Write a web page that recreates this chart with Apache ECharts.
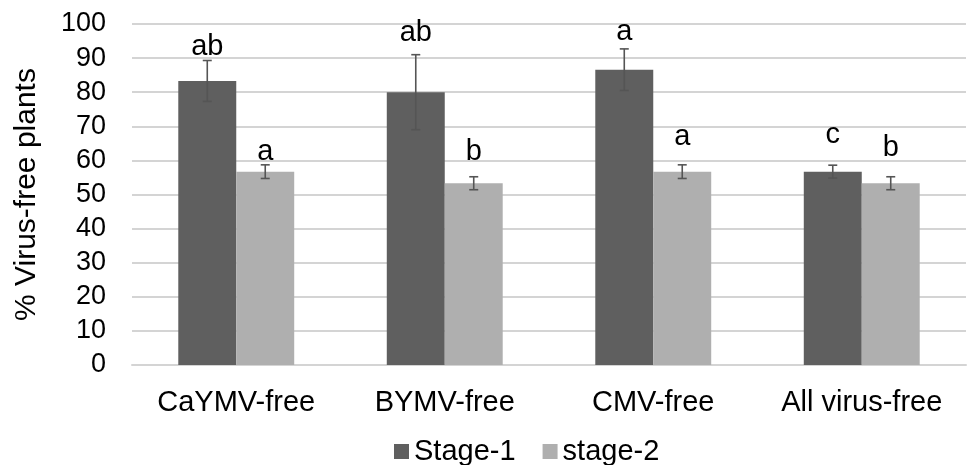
<!DOCTYPE html>
<html>
<head>
<meta charset="utf-8">
<script src="https://cdn.jsdelivr.net/npm/echarts@6/dist/echarts.min.js"></script>
<style>html,body{margin:0;padding:0;background:#fff}#c{width:967px;height:465px}</style>
</head>
<body>
<div id="c"></div>
<script>
var categories = ['CaYMV-free', 'BYMV-free', 'CMV-free', 'All virus-free'];
var seriesNames = ['Stage-1', 'stage-2'];
var stage1 = [83.3, 80.0, 86.6, 56.7];
var stage2 = [56.7, 53.3, 56.7, 53.3];
var stage1Err = [6.0, 11.0, 6.1, 1.9];
var stage2Err = [2.0, 1.9, 2.0, 1.9];
var stage1Letters = ['ab', 'ab', 'a', 'c'];
var stage2Letters = ['a', 'b', 'a', 'b'];
var stage1LetterY = [93.3, 97.4, 97.7, 67.4];
var stage2LetterY = [62.5, 62.5, 67.0, 63.6];
var yTicks = [0, 10, 20, 30, 40, 50, 60, 70, 80, 90, 100];

var FONT = "'Liberation Sans', Arial, sans-serif";
var BAR_RATIO = 0.278;

function errSeries(name, vals, errs, letters, letterY, side) {
  var data = vals.map(function (v, i) { return [i, v, errs[i], letterY[i]]; });
  return {
    type: 'custom',
    name: name + '-err',
    data: data,
    z: 5,
    silent: true,
    renderItem: function (params, api) {
      var i = api.value(0), v = api.value(1), e = api.value(2), ly = api.value(3);
      var band = api.size([1, 0])[0];
      var off = side * band * BAR_RATIO / 2;
      var top = api.coord([i, v + e]);
      var bot = api.coord([i, v - e]);
      var lp = api.coord([i, ly]);
      var x = top[0] + off;
      var cap = 4.5;
      var st = { stroke: '#555555', lineWidth: 1.6 };
      return {
        type: 'group',
        children: [
          { type: 'line', shape: { x1: x, y1: top[1], x2: x, y2: bot[1] }, style: st },
          { type: 'line', shape: { x1: x - cap, y1: top[1], x2: x + cap, y2: top[1] }, style: st },
          { type: 'line', shape: { x1: x - cap, y1: bot[1], x2: x + cap, y2: bot[1] }, style: st },
          { type: 'text', x: x, y: lp[1], style: { text: letters[params.dataIndex], fill: '#000', font: '29px ' + FONT, align: 'center', verticalAlign: 'middle' } }
        ]
      };
    }
  };
}

var chart = echarts.init(document.getElementById('c'), null, { renderer: 'canvas' });
chart.setOption({
  animation: false,
  backgroundColor: '#ffffff',
  textStyle: { fontFamily: FONT },
  grid: { left: 132, right: 1, top: 24, bottom: 100, containLabel: false, outerBoundsMode: 'none' },
  legend: {
    data: seriesNames,
    left: 389,
    top: 432,
    icon: 'rect',
    itemWidth: 15,
    itemHeight: 15,
    itemGap: 27,
    textStyle: { fontSize: 29, color: '#000', fontFamily: FONT }
  },
  xAxis: {
    type: 'category',
    data: categories,
    axisLine: { lineStyle: { color: '#d4d4d4', width: 2 } },
    axisTick: { show: false },
    axisLabel: { color: '#000', fontSize: 29, margin: 23, interval: 0, fontFamily: FONT }
  },
  yAxis: {
    type: 'value',
    min: 0, max: 100, interval: 10,
    name: '% Virus-free plants',
    nameLocation: 'middle',
    nameRotate: 90,
    nameGap: 90,
    nameTextStyle: { color: '#000', fontSize: 30, fontFamily: FONT },
    axisLine: { show: false },
    axisTick: { show: false },
    axisLabel: { color: '#000', fontSize: 27, margin: 26, fontFamily: FONT,
      formatter: function (v) { return yTicks.indexOf(v) >= 0 ? String(v) : ''; } },
    splitLine: { lineStyle: { color: '#d4d4d4', width: 2 } }
  },
  series: [
    { type: 'bar', name: seriesNames[0], data: stage1, barWidth: (BAR_RATIO * 100) + '%', barGap: '0%', itemStyle: { color: '#5f5f5f' } },
    { type: 'bar', name: seriesNames[1], data: stage2, barWidth: (BAR_RATIO * 100) + '%', barGap: '0%', itemStyle: { color: '#afafaf' } },
    errSeries(seriesNames[0], stage1, stage1Err, stage1Letters, stage1LetterY, -1),
    errSeries(seriesNames[1], stage2, stage2Err, stage2Letters, stage2LetterY, 1)
  ]
});
</script>
</body>
</html>
